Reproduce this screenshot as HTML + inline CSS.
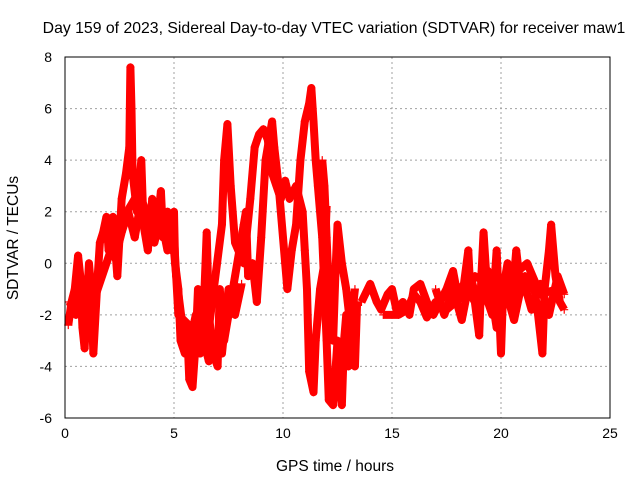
<!DOCTYPE html>
<html><head><meta charset="utf-8"><style>
body{margin:0;background:#fff}
svg{display:block;font-family:"Liberation Sans",sans-serif}
</style></head><body>
<svg id="chart" width="640" height="480" viewBox="0 0 640 480">
<text x="334" y="33" font-size="15.8" text-anchor="middle">Day 159 of 2023, Sidereal Day-to-day VTEC variation (SDTVAR) for receiver maw1</text>
<text x="335" y="471" font-size="15.5" text-anchor="middle">GPS time / hours</text>
<text transform="translate(18,238) rotate(-90)" font-size="15.5" text-anchor="middle">SDTVAR / TECUs</text>
<g id="grid"></g><g id="marks"></g><g id="axes"></g>
</svg>
<script>
const xTicks=[0,5,10,15,20,25];
const yTicks=[-6,-4,-2,0,2,4,6,8];
const traceA=[[0.15,-2.4],[0.3,-1.5],[0.45,-1.0],[0.6,0.3],[0.7,-0.5],[0.8,-2.5],[0.9,-3.3],[1.0,-1.5],[1.1,0],[1.2,-1.0],[1.3,-3.5],[1.4,-2.0],[1.5,-0.5],[1.6,0.8],[1.75,1.2],[1.9,1.8],[2.0,0.5],[2.2,1.8],[2.4,-0.5],[2.6,2.5],[2.8,3.5],[2.95,4.5],[3.0,7.6],[3.05,6.0],[3.1,3.5],[3.3,2],[3.5,4.0],[3.6,1.5],[3.8,0.5],[4.0,2.5],[4.2,1.2],[4.4,2.8],[4.5,1],[4.7,2],[4.9,0.5],[5.0,2],[5.05,0],[5.2,-1],[5.3,-3],[5.5,-3.5],[5.6,-2.5],[5.7,-4.5],[5.85,-4.8],[6.0,-3],[6.1,-1.0],[6.3,-3.0],[6.4,-1],[6.5,1.2],[6.6,-2],[6.8,-3.5],[7.0,-4],[7.1,-1],[7.3,-3],[7.5,-2],[7.8,-0.5],[8.0,0.5],[8.2,1.5],[8.3,2],[8.4,-0.5],[8.6,0],[8.8,-1.5],[9.0,1],[9.2,4],[9.4,5],[9.5,5.5],[9.6,4.5],[9.8,3],[10.0,1],[10.1,0],[10.2,-1],[10.4,0.5],[10.6,1.5],[10.8,4],[11.0,5.5],[11.2,6.2],[11.3,6.8],[11.4,5.5],[11.5,4],[11.6,3],[11.8,1],[11.9,-1],[12.0,-3],[12.1,-5.3],[12.3,-5.5],[12.5,-3],[12.6,-4.5],[12.7,-5.5],[12.8,-3],[12.9,-2],[13.0,-4],[13.1,-2],[13.2,-3],[13.3,-4],[13.4,-1.5]];
const traceB=[[0.2,-1.5],[0.5,-2],[0.8,-1],[1.1,-2.8],[1.3,-1.5],[2.5,1.5],[3.2,2.5],[3.6,2.0],[4.1,1.5],[4.6,1.0],[5.0,1.0],[5.2,-2.0],[5.8,-2.5],[6.2,-3.5],[6.6,-2.5],[7.2,1.5],[7.3,4],[7.45,5.4],[7.6,3],[7.8,0.8],[8.2,0],[8.5,2.5],[8.7,4.5],[8.9,5],[9.1,5.2],[9.3,4.8],[9.5,3.5],[9.7,3],[9.9,2.5],[10.1,3.2],[10.3,2.5],[10.6,3],[10.9,2],[11.0,0.5],[11.1,-1],[11.2,-4.2],[11.4,-5.0],[11.5,-3],[11.7,-1],[11.9,0],[12.0,2.2]];
const traceC=[[11.8,4],[11.9,3],[12.0,1],[12.1,-1],[12.3,-3],[12.4,-0.5],[12.5,1.5],[12.7,0],[12.9,-1],[13.1,-2.5],[13.3,-1]];
const traceD=[[13.6,-1.5],[14.0,-0.8],[14.3,-1.5],[14.5,-1.8],[14.8,-1.2],[15,-1],[15.2,-1.8],[15.5,-1.5],[15.8,-2.0],[16.0,-1],[16.3,-0.8],[16.6,-1.5],[16.9,-2],[17.2,-1.5],[17.5,-1],[17.8,-0.3],[18.0,-1.2],[18.3,-0.8],[18.5,0.5],[18.6,-1.2],[18.8,-1.5],[19.0,-2.8],[19.1,-0.5],[19.2,1.2],[19.4,-1.5],[19.6,-2],[19.8,0.5],[20.0,-3.5],[20.1,-1],[20.3,0],[20.5,-1.5],[20.7,0.5],[20.9,-1],[21.1,-0.5],[21.3,-1],[21.5,-0.8],[21.7,-2],[21.9,-3.5],[22.0,-1],[22.2,0.5],[22.3,1.5],[22.5,-0.5],[22.7,-1.5],[22.9,-1.8]];
const traceE=[[14.6,-2],[15.3,-2],[15.7,-1.8],[16.0,-1.2],[16.3,-1.5],[16.6,-2.1],[17.0,-1.5],[17.5,-1.8],[18.2,-1.3],[18.8,-0.5],[19.5,-0.8],[20.5,-0.5],[21.2,0],[21.8,-1.2],[22.6,-1]];
const traceF=[[2.0,1.0],[2.3,0.2],[2.6,1.2],[2.9,2.0],[3.2,1.0],[3.5,2.5],[3.8,1.8],[4.1,0.8],[4.4,1.8],[4.7,0.5],[4.9,1.5],[5.1,-0.5],[5.4,-2.5],[5.7,-3.2],[6.0,-2.0],[6.3,-2.8],[6.6,-3.8],[6.9,-3.0],[7.2,-3.5],[7.5,-1.0],[7.8,-2.0],[8.1,-0.8]];
const traceG=[[17.0,-1.0],[17.4,-2.0],[17.8,-1.0],[18.2,-2.2],[18.6,-0.5],[19.0,-1.8],[19.4,-0.3],[19.8,-2.5],[20.2,-1.0],[20.6,-2.2],[21.0,-0.6],[21.4,-1.8],[21.8,-0.8],[22.2,-2.0],[22.6,-0.5],[22.9,-1.2]];
const traces=[traceA,traceB,traceC,traceD,traceE,traceF,traceG];
const L=65,R=610,T=57,B=418,NS="http://www.w3.org/2000/svg";
const X=v=>L+(v-0)/(25-0)*(R-L);
const Y=v=>B-(v+6)/(8+6)*(B-T);
function mk(tag,attrs,parent){const e=document.createElementNS(NS,tag);for(const k in attrs)e.setAttribute(k,attrs[k]);parent.appendChild(e);return e;}
const grid=document.getElementById('grid'),marks=document.getElementById('marks'),axes=document.getElementById('axes');
xTicks.forEach(t=>{
 if(t>0&&t<25){const g=mk('line',{x1:X(t),x2:X(t),y1:T,y2:B,stroke:'#a0a0a0','stroke-dasharray':'2,3'},grid);
 
 }
 const tx=mk('text',{x:X(t),y:B+20,'font-size':14,'text-anchor':'middle'},axes);tx.textContent=t;
 
 
});
yTicks.forEach(t=>{
 if(t>-6&&t<8){const g=mk('line',{x1:L,x2:R,y1:Y(t),y2:Y(t),stroke:'#a0a0a0','stroke-dasharray':'2,3'},grid);
 
 }
 const tx=mk('text',{x:L-13,y:Y(t)+5,'font-size':14,'text-anchor':'end'},axes);tx.textContent=t;
 
 
});
const frame=mk('rect',{x:L,y:T,width:R-L,height:B-T,fill:'none',stroke:'#000'},axes);


traces.forEach(tr=>{
 const pl=mk('polyline',{points:tr.map(p=>X(p[0])+','+Y(p[1])).join(' '),fill:'none',stroke:'#ff0000','stroke-width':8,'stroke-linejoin':'round'},marks);
 
 
 tr.forEach(p=>{
  const x=X(p[0]),y=Y(p[1]);
  const m=mk('path',{d:`M${x-4},${y}H${x+4}M${x},${y-4}V${y+4}`,stroke:'#ff0000','stroke-width':1.2},marks);
  
  
 });
});
</script>
</body></html>
